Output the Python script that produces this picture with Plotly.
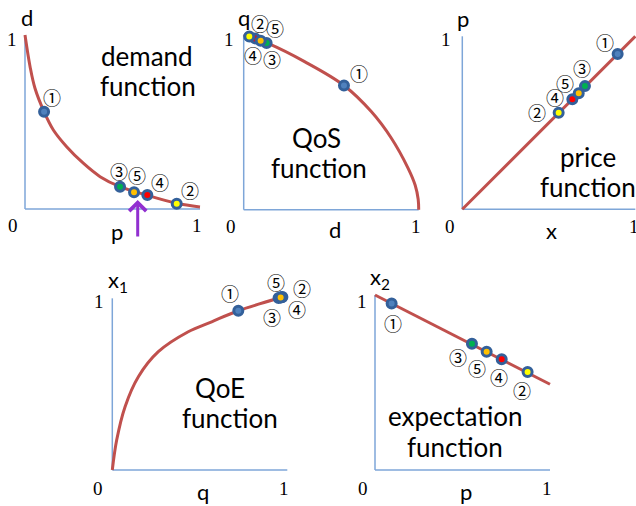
import plotly.graph_objects as go

W, H = 636, 506

# ---------------- data ----------------
labels = ['①', '②', '③', '④', '⑤']
fill_colors = ['#4f81bd', '#ffff00', '#00b050', '#ff0000', '#ffc000']

# demand function d(p)
demand_curve_p = [0.0, 0.029, 0.057, 0.109, 0.162, 0.238, 0.333, 0.429, 0.543, 0.695, 0.867, 1.0]
demand_curve_d = [1.0, 0.818, 0.694, 0.559, 0.454, 0.358, 0.263, 0.186, 0.128, 0.080, 0.033, 0.012]
demand_pts_p = [0.109, 0.867, 0.543, 0.699, 0.623]
demand_pts_d = [0.559, 0.030, 0.128, 0.080, 0.096]

# QoS function q(d)
qos_curve_d = [0.0, 0.139, 0.348, 0.573, 0.729, 0.843, 0.939, 0.98, 0.997, 1.0]
qos_curve_q = [1.0, 0.95, 0.846, 0.71, 0.561, 0.41, 0.238, 0.14, 0.06, 0.0]
qos_pts_d = [0.573, 0.032, 0.131, 0.065, 0.097]
qos_pts_q = [0.71, 0.99, 0.952, 0.979, 0.966]

# price function p(x)
price_curve_x = [0.0, 1.0]
price_curve_p = [0.0, 1.0]
price_pts_x = [0.898, 0.557, 0.709, 0.636, 0.673]
price_pts_p = [0.898, 0.558, 0.712, 0.636, 0.671]

# QoE function x1(q)
qoe_curve_q = [0.0, 0.025, 0.073, 0.149, 0.263, 0.434, 0.568, 0.72, 0.949, 0.997]
qoe_curve_x1 = [0.0, 0.171, 0.362, 0.533, 0.676, 0.79, 0.847, 0.91, 0.981, 0.994]
qoe_pts_q = [0.72, 0.972, 0.95, 0.968, 0.962]
qoe_pts_x1 = [0.91, 0.989, 0.983, 0.987, 0.986]

# expectation function x2(p)
exp_curve_p = [0.0, 1.0]
exp_curve_x2 = [1.0, 0.49]
exp_pts_p = [0.095, 0.872, 0.554, 0.724, 0.638]
exp_pts_x2 = [0.952, 0.56, 0.722, 0.633, 0.676]

# ---------------- layout helpers ----------------
CURVE = '#c0504d'
AXIS = '#7ea6d8'
RING = '#33609a'
SANS = 'Lato, Noto Sans, sans-serif'
SERIF = 'Liberation Serif, DejaVu Serif, serif'
CIRC = 'Noto Sans CJK JP'

# (origin px x, origin px y, scale x, scale y, box L, R, T, B, axis x-end, axis y-end)
panels = [
    (25.0, 209.0, 175, 174, 12, 216, 26, 216, 1.0, 1.0),
    (243.7, 209.7, 175, 175, 234, 428, 24, 216, 1.0, 1.0),
    (462.3, 209.3, 173, 173, 452, 636, 26, 216, 1.0, 1.0),
    (112.3, 470.0, 175, 175, 104, 300, 286, 478, 1.0, 0.981),
    (375.0, 470.0, 175, 175, 366, 600, 286, 478, 1.0, 1.0),
]

curves = [
    (demand_curve_p, demand_curve_d, demand_pts_p, demand_pts_d),
    (qos_curve_d, qos_curve_q, qos_pts_d, qos_pts_q),
    (price_curve_x, price_curve_p, price_pts_x, price_pts_p),
    (qoe_curve_q, qoe_curve_x1, qoe_pts_q, qoe_pts_x1),
    (exp_curve_p, exp_curve_x2, exp_pts_p, exp_pts_x2),
]

draw_order = [0, 2, 3, 1, 4]

fig = go.Figure()
layout_axes = {}
shapes = []

for i, (pan, cv) in enumerate(zip(panels, curves)):
    ox, oy, sx, sy, L, R, T, B, xe, ye = pan
    n = '' if i == 0 else str(i + 1)
    xa, ya = 'x' + n, 'y' + n
    layout_axes['xaxis' + n] = dict(domain=[L / W, R / W], range=[(L - ox) / sx, (R - ox) / sx],
                                    visible=False, anchor=ya, fixedrange=True)
    layout_axes['yaxis' + n] = dict(domain=[1 - B / H, 1 - T / H], range=[(oy - B) / sy, (oy - T) / sy],
                                    visible=False, anchor=xa, fixedrange=True)
    shapes.append(dict(type='line', xref=xa, yref=ya, x0=0, y0=0, x1=xe, y1=0,
                       line=dict(color=AXIS, width=1.5), layer='below'))
    shapes.append(dict(type='line', xref=xa, yref=ya, x0=0, y0=0, x1=0, y1=ye,
                       line=dict(color=AXIS, width=1.5), layer='below'))
    cx, cy, px_, py_ = cv
    fig.add_trace(go.Scatter(x=cx, y=cy, mode='lines', line=dict(color=CURVE, width=3, shape='spline'),
                             xaxis=xa, yaxis=ya, hoverinfo='skip', showlegend=False))
    fig.add_trace(go.Scatter(x=[px_[k] for k in draw_order], y=[py_[k] for k in draw_order],
                             mode='markers', cliponaxis=False,
                             marker=dict(size=9, color=[fill_colors[k] for k in draw_order],
                                         line=dict(color=RING, width=3)),
                             xaxis=xa, yaxis=ya, hoverinfo='skip', showlegend=False))

annotations = []


def txt(px, py, s, size, family, color='black'):
    annotations.append(dict(x=px / W, y=1 - py / H, xref='paper', yref='paper', text=s,
                            showarrow=False, xanchor='center', yanchor='middle',
                            font=dict(size=size, family=family, color=color)))


# axis labels
axis_labels = [
    (27, 17, 'd'), (117, 231, 'p'),
    (244, 17, 'q'), (335, 229, 'd'),
    (463, 18, 'p'), (551, 230, 'x'),
    (118, 281, 'x<sub>1</sub>'), (203, 491, 'q'),
    (380, 278, 'x<sub>2</sub>'), (466, 491, 'p'),
]
for px, py, s in axis_labels:
    txt(px, py, s, 22, SANS)

# tick numbers
tick_labels = [
    (12, 40, '1'), (13, 225, '0'), (197, 225, '1'),
    (229, 39, '1'), (231, 226, '0'), (416, 226, '1'),
    (446, 39, '1'), (450, 226, '0'), (634, 226, '1'),
    (99, 301, '1'), (98, 488, '0'), (284, 488, '1'),
    (362, 301, '1'), (363, 488, '0'), (547, 488, '1'),
]
for px, py, s in tick_labels:
    txt(px, py, s, 19, SERIF)

# titles
titles = [
    (147, 56, 'demand'), (148, 86, 'function'),
    (316, 138, 'QoS'), (319, 168, 'function'),
    (588, 157, 'price'), (588, 187, 'function'),
    (220, 388, 'QoE'), (230, 418, 'function'),
    (455, 416, 'expectation'), (455, 447, 'function'),
]
for px, py, s in titles:
    txt(px, py, s, 26, SANS)

# circled iteration labels (positions in px, order ①..⑤)
circ_pos = [
    [(52, 97), (190, 190), (119, 171), (160, 182), (137, 175)],
    [(359, 73), (260, 23), (272, 59), (253, 55), (275, 28)],
    [(605, 42), (537, 112), (582, 68), (555, 97), (565, 83)],
    [(230, 293), (302, 288), (272, 317), (297, 309), (276, 282)],
    [(393, 323), (522, 390), (458, 357), (499, 377), (477, 368)],
]
for plist in circ_pos:
    for k, (px, py) in enumerate(plist):
        txt(px, py, labels[k], 18, CIRC)

# purple arrow in demand panel
annotations.append(dict(x=0.644, y=0.052, xref='x', yref='y', text='', showarrow=True,
                        ax=0, ay=38, axref='pixel', ayref='pixel',
                        arrowhead=4, arrowsize=1.1, arrowwidth=3, arrowcolor='#9130d0', standoff=0))

fig.update_layout(width=W, height=H, margin=dict(l=0, r=0, t=0, b=0),
                  paper_bgcolor='white', plot_bgcolor='white',
                  shapes=shapes, annotations=annotations, **layout_axes)

fig.write_html('out.html', config={'displayModeBar': False},
               post_script="document.body.style.margin='0';document.body.style.padding='0';")
